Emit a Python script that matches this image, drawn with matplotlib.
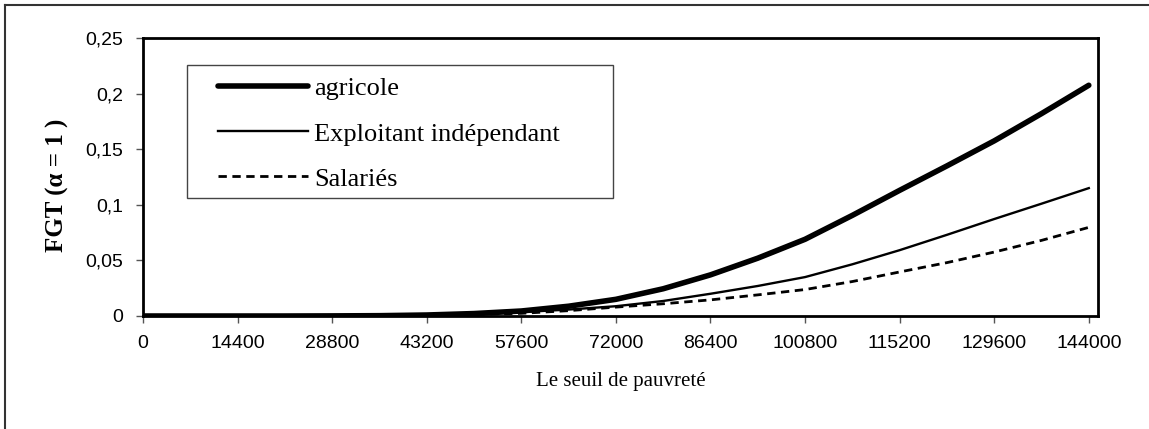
import matplotlib
matplotlib.use("Agg")
from matplotlib import pyplot as plt
from matplotlib.lines import Line2D
from matplotlib.patches import Rectangle
import numpy as np

# seuil de pauvreté (pas de 7200)
seuil = list(range(0, 144001, 7200))

agricole = [0, 0, 0, 0, 0.0001, 0.0003, 0.0009, 0.0022, 0.0045, 0.0088, 0.0150,
            0.0245, 0.0370, 0.0520, 0.0690, 0.0905, 0.1130, 0.1350, 0.1575, 0.1820, 0.2075]
exploitant = [0, 0, 0, 0, 0.0001, 0.0003, 0.0008, 0.0018, 0.0035, 0.0058, 0.0088,
              0.0135, 0.0200, 0.0270, 0.0350, 0.0465, 0.0592, 0.0730, 0.0872, 0.1010, 0.1150]
salaries = [0, 0, 0, 0, 0.0001, 0.0003, 0.0007, 0.0014, 0.0024, 0.0048, 0.0080,
            0.0110, 0.0145, 0.0190, 0.0238, 0.0310, 0.0396, 0.0480, 0.0575, 0.0680, 0.0797]

xticks = list(range(0, 144001, 14400))
yticks = [0, 0.05, 0.1, 0.15, 0.2, 0.25]
ytick_labels = ["0", "0,05", "0,1", "0,15", "0,2", "0,25"]

W, H = 1149, 429
fig = plt.figure(figsize=(W / 100, H / 100), dpi=100)
ax = fig.add_axes([143 / W, (H - 316) / H, (1098 - 143) / W, (316 - 38) / H])

ax.plot(seuil, agricole, color="black", linewidth=4, solid_capstyle="round", label="agricole")
ax.plot(seuil, exploitant, color="black", linewidth=1.7, label="Exploitant indépendant")
ax.plot(seuil, salaries, color="black", linewidth=2, dashes=(3, 2), label="Salariés")

ax.set_xlim(0, 145400)
ax.set_ylim(0, 0.25)
ax.set_xticks(xticks)
ax.set_xticklabels([str(v) for v in xticks])
ax.set_yticks(yticks)
ax.set_yticklabels(ytick_labels)

for s in ax.spines.values():
    s.set_linewidth(2)
    s.set_color("black")

ax.tick_params(axis="both", direction="out", length=5, width=1, color="#555555",
               labelsize=14, pad=9)
for lab in ax.get_xticklabels() + ax.get_yticklabels():
    lab.set_family("Liberation Sans")

ax.set_xlabel("Le seuil de pauvreté", family="Liberation Serif", fontsize=15, labelpad=14)
ax.set_ylabel("FGT (α = 1 )", family="Liberation Serif", fontsize=18, fontweight="bold")
ax.yaxis.set_label_coords(-0.078, 0.47)

leg = ax.legend(loc="upper left", bbox_to_anchor=(218 / W, 1 - 77 / H),
                bbox_transform=fig.transFigure,
                prop={"family": "Liberation Serif", "size": 19},
                frameon=False, handlelength=3.4, handletextpad=0.24,
                borderpad=0, borderaxespad=0, labelspacing=0.82)

# cadre de la légende
fig.add_artist(Rectangle((187 / W, 1 - 198 / H), (613 - 187) / W, (198 - 65) / H,
                         transform=fig.transFigure, fill=False, edgecolor="#444444", linewidth=1))

# cadre extérieur (bord gauche et haut)
fig.add_artist(Line2D([5 / W, 5 / W], [0, 1 - 5 / H], transform=fig.transFigure, color="#333333", linewidth=1.5))
fig.add_artist(Line2D([5 / W, 1], [1 - 5 / H, 1 - 5 / H], transform=fig.transFigure, color="#333333", linewidth=1.5))

fig.savefig("out.png", dpi=100)
